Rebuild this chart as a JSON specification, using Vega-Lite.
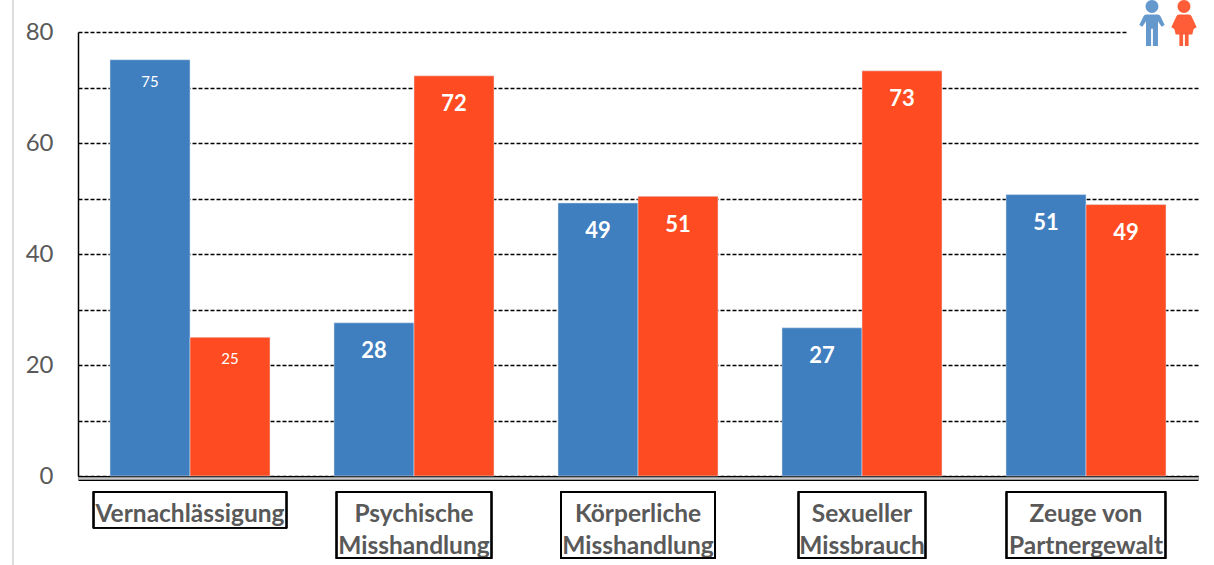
{"$schema":"https://vega.github.io/schema/vega-lite/v6.json","width":1120,"height":444,"autosize":{"type":"none"},"padding":{"left":78,"top":32,"right":16,"bottom":89},"background":"white","config":{"view":{"stroke":null}},
"datasets":{"main":[
{"category":"Vernachlässigung","sex":"Jungen","value":75,"label":"75"},
{"category":"Vernachlässigung","sex":"Mädchen","value":25,"label":"25"},
{"category":"Psychische Misshandlung","sex":"Jungen","value":27.6,"label":"28"},
{"category":"Psychische Misshandlung","sex":"Mädchen","value":72.1,"label":"72"},
{"category":"Körperliche Misshandlung","sex":"Jungen","value":49.2,"label":"49"},
{"category":"Körperliche Misshandlung","sex":"Mädchen","value":50.4,"label":"51"},
{"category":"Sexueller Missbrauch","sex":"Jungen","value":26.7,"label":"27"},
{"category":"Sexueller Missbrauch","sex":"Mädchen","value":73,"label":"73"},
{"category":"Zeuge von Partnergewalt","sex":"Jungen","value":50.7,"label":"51"},
{"category":"Zeuge von Partnergewalt","sex":"Mädchen","value":48.9,"label":"49"}]},
"data":{"name":"main"},
"resolve":{"axis":{"x":"independent"}},
"layer":[
{"mark":{"type":"bar","stroke":"#dfe8f2","strokeWidth":0.5},
"encoding":{
"x":{"field":"category","type":"nominal","sort":null,"scale":{"domain":["Vernachlässigung","Psychische Misshandlung","Körperliche Misshandlung","Sexueller Missbrauch","Zeuge von Partnergewalt"],"paddingInner":0.2857,"paddingOuter":0.1429},
"axis":{"title":null,"orient":"bottom","labelAngle":0,"offset":2,"domainColor":"black","domainWidth":5,"ticks":false,"labelFont":"Lato","labelFontWeight":"bold","labelFontSize":24.5,"labelColor":"#595959","labelLineHeight":32,"labelPadding":24,"labelBaseline":"top","labelLimit":400,"labelOverlap":false,"labelExpr":"datum.value=='Zeuge von Partnergewalt'?['Zeuge von','Partnergewalt']:split(datum.value,' ')"}},
"xOffset":{"field":"sex","type":"nominal","sort":null,"scale":{"paddingInner":0,"paddingOuter":0}},
"y":{"field":"value","type":"quantitative","scale":{"domain":[0,80],"nice":false},
"axis":{"title":null,"values":[0,10,20,30,40,50,60,70,80],"labelExpr":"datum.value%20?'':datum.value","grid":true,"gridColor":"black","gridWidth":1.5,"gridDash":[4,2],"ticks":false,"domainColor":"black","domainWidth":1.5,"labelFont":"Lato","labelFontSize":24,"labelColor":"#595959","labelPadding":25}},
"color":{"field":"sex","type":"nominal","legend":null,"scale":{"domain":["Jungen","Mädchen"],"range":["#3F7EBF","#FF4B21"]}}}},
{"transform":[{"filter":"datum.category=='Vernachlässigung'"}],
"mark":{"type":"text","color":"white","font":"Lato","fontSize":15,"baseline":"middle","dy":22},
"encoding":{"x":{"field":"category","type":"nominal","axis":null},"xOffset":{"field":"sex","type":"nominal","sort":null},"y":{"field":"value","type":"quantitative"},"text":{"field":"label"}}},
{"transform":[{"filter":"datum.category!='Vernachlässigung'"}],
"mark":{"type":"text","color":"white","font":"Lato","fontWeight":"bold","fontSize":22,"baseline":"middle","dy":28.5},
"encoding":{"x":{"field":"category","type":"nominal","axis":null},"xOffset":{"field":"sex","type":"nominal","sort":null},"y":{"field":"value","type":"quantitative"},"text":{"field":"label"}}},
{"mark":{"type":"rect","color":"white","width":72,"xOffset":77},
"encoding":{"x":{"datum":"Zeuge von Partnergewalt","type":"nominal","axis":{"title":null,"orient":"bottom","labels":false,"ticks":false,"offset":2,"domainColor":"#c9c9c9","domainWidth":2.4,"zindex":1}},"y":{"datum":80.4},"y2":{"datum":79.6}}},
{"transform":[{"filter":"datum.category=='Zeuge von Partnergewalt' && datum.sex=='Jungen'"}],
"mark":{"type":"point","filled":true,"opacity":0.8,"size":2116,"xOffset":66,"shape":"M0,-1 A0.28,0.28 0 1,1 0,-0.44 A0.28,0.28 0 1,1 0,-1 Z M-0.25,-0.38 L0.25,-0.38 Q0.33,-0.38 0.38,-0.28 L0.55,0.08 L0.42,0.16 L0.26,-0.08 L0.26,1 L0.04,1 L0.04,0.25 L-0.04,0.25 L-0.04,1 L-0.26,1 L-0.26,-0.08 L-0.42,0.16 L-0.55,0.08 L-0.38,-0.28 Q-0.33,-0.38 -0.25,-0.38 Z"},
"encoding":{"x":{"field":"category","type":"nominal","axis":null},"y":{"datum":81.6},"color":{"field":"sex","type":"nominal"}}},
{"transform":[{"filter":"datum.category=='Zeuge von Partnergewalt' && datum.sex=='Mädchen'"}],
"mark":{"type":"point","filled":true,"opacity":0.9,"size":2116,"xOffset":98,"shape":"M0,-1 A0.28,0.28 0 1,1 0,-0.44 A0.28,0.28 0 1,1 0,-1 Z M-0.2,-0.38 L0.2,-0.38 Q0.3,-0.38 0.34,-0.28 L0.55,0.18 L0.42,0.26 L0.36,0.5 L0.2,0.5 L0.2,1 L0.04,1 L0.04,0.5 L-0.04,0.5 L-0.04,1 L-0.2,1 L-0.2,0.5 L-0.36,0.5 L-0.42,0.26 L-0.55,0.18 L-0.34,-0.28 Q-0.3,-0.38 -0.2,-0.38 Z"},
"encoding":{"x":{"field":"category","type":"nominal","axis":null},"y":{"datum":81.6},"color":{"field":"sex","type":"nominal"}}},
{"mark":{"type":"rule","color":"#dddddd","strokeWidth":2,"xOffset":-177},
"encoding":{"x":{"datum":"Vernachlässigung","type":"nominal","axis":null},"y":{"datum":86},"y2":{"datum":-16}}},
{"mark":{"type":"rect","fillOpacity":0,"stroke":"black","strokeWidth":1.3,"width":193},
"encoding":{"x":{"datum":"Vernachlässigung","type":"nominal","axis":null},"y":{"datum":-2.9},"y2":{"datum":-9.3}}},
{"mark":{"type":"rect","fillOpacity":0,"stroke":"black","strokeWidth":1.3,"width":155},
"encoding":{"x":{"datum":"Psychische Misshandlung","type":"nominal","axis":null},"y":{"datum":-2.9},"y2":{"datum":-14.8}}},
{"mark":{"type":"rect","fillOpacity":0,"stroke":"black","strokeWidth":1.3,"width":154},
"encoding":{"x":{"datum":"Körperliche Misshandlung","type":"nominal","axis":null},"y":{"datum":-2.9},"y2":{"datum":-14.8}}},
{"mark":{"type":"rect","fillOpacity":0,"stroke":"black","strokeWidth":1.3,"width":127},
"encoding":{"x":{"datum":"Sexueller Missbrauch","type":"nominal","axis":null},"y":{"datum":-2.9},"y2":{"datum":-14.8}}},
{"mark":{"type":"rect","fillOpacity":0,"stroke":"black","strokeWidth":1.3,"width":159},
"encoding":{"x":{"datum":"Zeuge von Partnergewalt","type":"nominal","axis":null},"y":{"datum":-2.9},"y2":{"datum":-14.8}}}
]}
